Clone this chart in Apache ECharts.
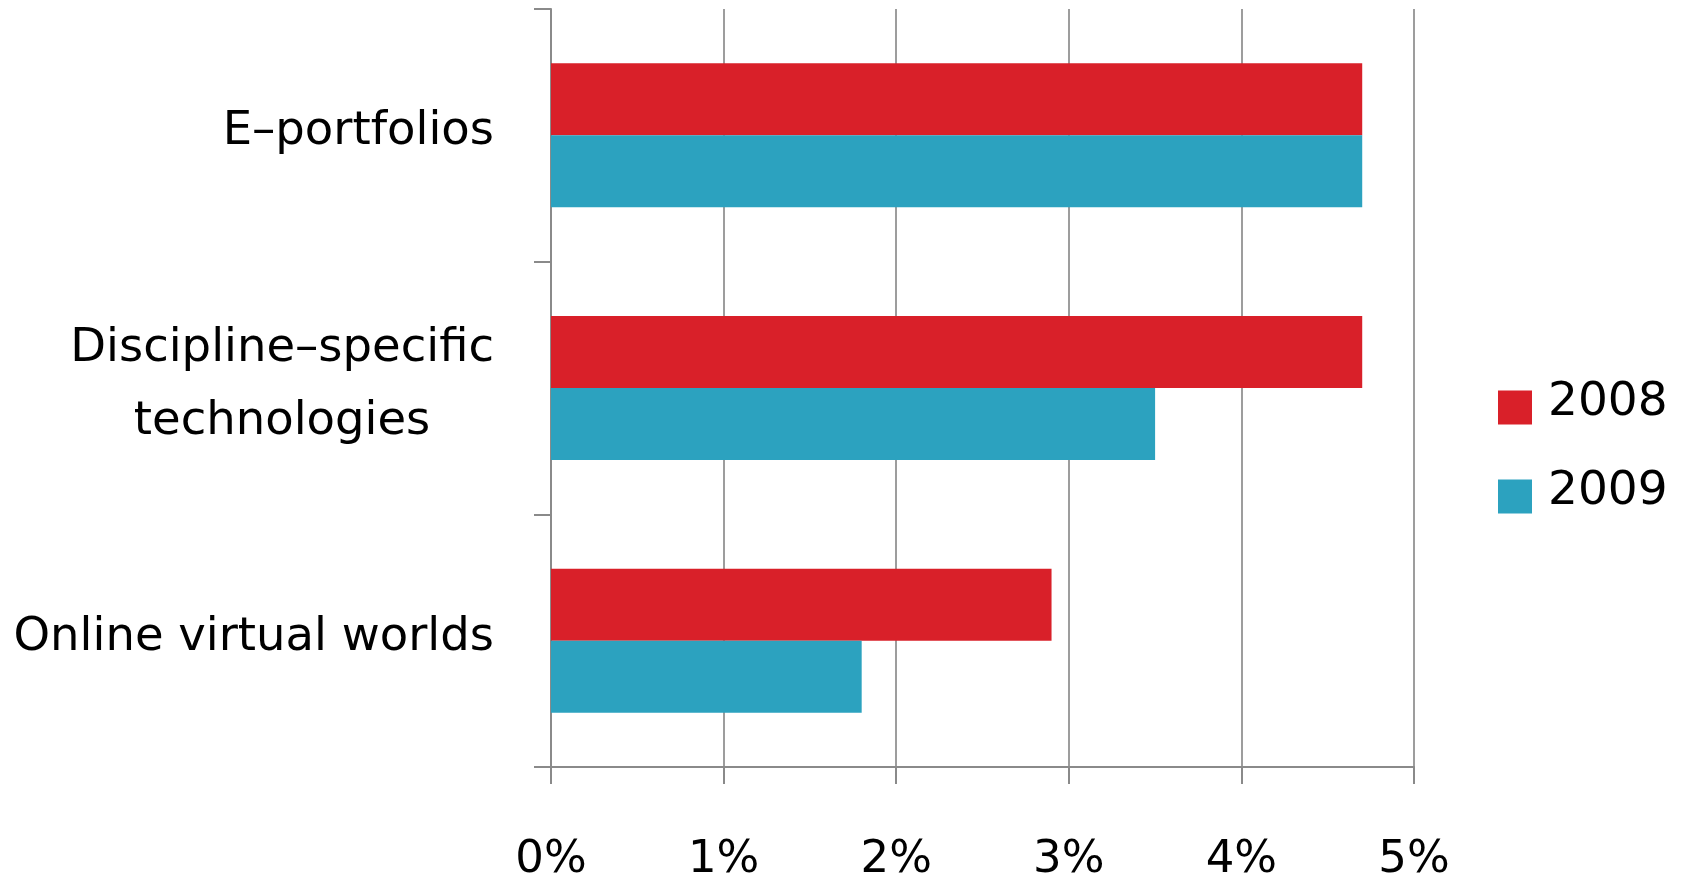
<!DOCTYPE html>
<html>
<head>
<meta charset="utf-8">
<script src="https://cdn.jsdelivr.net/npm/echarts@6/dist/echarts.min.js"></script>
<style>
  html, body { margin: 0; padding: 0; background: #ffffff; }
  #chart { width: 1685px; height: 880px; }
</style>
</head>
<body>
<div id="chart"></div>
<script>
// Categories, top to bottom
const categories = ['E–portfolios', 'Discipline–specific\ntechnologies', 'Online virtual worlds'];
// Share of respondents (%) per year
const values2008 = [4.7, 4.7, 2.9];
const values2009 = [4.7, 3.5, 1.8];
const seriesNames = ['2008', '2009'];
// Value axis ticks (%)
const axisMin = 0;
const axisMax = 5;
const axisStep = 1;

const FONT = '"DejaVu Sans", sans-serif';
const RED = '#d92029';
const BLUE = '#2ca2bf';
const AXIS_GREY = '#8a8a8a';
const GRID_GREY = '#9d9d9d';

const chart = echarts.init(document.getElementById('chart'), null, { renderer: 'canvas' });

chart.setOption({
  animation: false,
  backgroundColor: '#ffffff',
  textStyle: { fontFamily: FONT },
  grid: { left: 551, right: 271, top: 9, bottom: 113, containLabel: false, outerBoundsMode: 'none' },
  legend: {
    orient: 'vertical',
    left: 1498,
    top: 379,
    padding: 0,
    itemWidth: 34,
    itemHeight: 34,
    itemGap: 42,
    icon: 'rect',
    formatter: '{t|{name}}',
    textStyle: {
      fontFamily: FONT, fontSize: 47, color: '#000000',
      rich: { t: { fontFamily: FONT, fontSize: 47, color: '#000000', padding: [0, 0, 10, 11] } }
    },
    data: seriesNames
  },
  xAxis: {
    type: 'value',
    min: axisMin,
    max: axisMax,
    interval: axisStep,
    axisLine: { show: true, lineStyle: { color: AXIS_GREY, width: 2 } },
    axisTick: { show: true, length: 17, lineStyle: { color: AXIS_GREY, width: 2 } },
    splitLine: { show: true, lineStyle: { color: GRID_GREY, width: 2 } },
    axisLabel: {
      formatter: v => v + '%',
      fontFamily: FONT,
      fontSize: 45,
      color: '#000000',
      margin: 71
    }
  },
  yAxis: {
    type: 'category',
    inverse: true,
    data: categories,
    axisLine: { show: true, lineStyle: { color: AXIS_GREY, width: 2 } },
    axisTick: { show: true, length: 17, lineStyle: { color: AXIS_GREY, width: 2 } },
    splitLine: { show: false },
    axisLabel: {
      fontFamily: FONT,
      fontSize: 46.5,
      color: '#000000',
      margin: 57,
      align: 'right',
      lineHeight: 73,
      padding: [0, 0, 6, 0],
      formatter: v => v.split('\n').map(s => '{c|' + s + '}').join('\n'),
      rich: {
        c: { fontFamily: FONT, fontSize: 46.5, color: '#000000', align: 'center', lineHeight: 73 }
      }
    }
  },
  series: [
    {
      name: seriesNames[0],
      type: 'bar',
      data: values2008,
      itemStyle: { color: RED },
      barGap: '0%',
      barCategoryGap: '43%'
    },
    {
      name: seriesNames[1],
      type: 'bar',
      data: values2009,
      itemStyle: { color: BLUE },
      barGap: '0%',
      barCategoryGap: '43%'
    }
  ]
});
</script>
</body>
</html>
